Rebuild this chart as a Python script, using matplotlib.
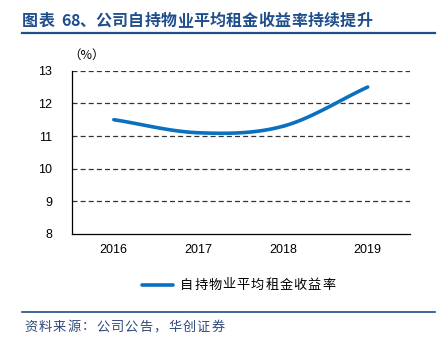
import numpy as np
import matplotlib
matplotlib.use("Agg")
import matplotlib.pyplot as plt
from matplotlib.lines import Line2D

plt.rcParams['font.family'] = ['Liberation Sans', 'Noto Sans CJK SC', 'DejaVu Sans']

# 数据
years = ['2016', '2017', '2018', '2019']
rent_yield = [11.5, 11.1, 11.3, 12.5]
series_name = '自持物业平均租金收益率'
title = '图表 68、公司自持物业平均租金收益率持续提升'
source = '资料来源：公司公告，华创证券'

line_color = '#0A70C0'
title_color = '#1F4E8C'
cjk = ['Noto Sans CJK SC', 'DejaVu Sans']


def catmull_rom(x, y, n=40):
    # 平滑曲线（仅用于绘制，类似 Excel 平滑线）
    x = np.asarray(x, float)
    y = np.asarray(y, float)
    px = np.concatenate([[2 * x[0] - x[1]], x, [2 * x[-1] - x[-2]]])
    py = np.concatenate([[2 * y[0] - y[1]], y, [2 * y[-1] - y[-2]]])
    xs, ys = [], []
    for i in range(1, len(px) - 2):
        t = np.linspace(0, 1, n)
        for p, out in ((px, xs), (py, ys)):
            p0, p1, p2, p3 = p[i - 1], p[i], p[i + 1], p[i + 2]
            out.extend(0.5 * ((2 * p1) + (-p0 + p2) * t
                              + (2 * p0 - 5 * p1 + 4 * p2 - p3) * t ** 2
                              + (-p0 + 3 * p1 - 3 * p2 + p3) * t ** 3))
    return np.array(xs), np.array(ys)


def spaced_text(x0, y, s, step, **kw):
    # 逐字排版，模拟原图较宽的字距
    x = x0
    for ch in s:
        fig.text(x / 445, 1 - y / 345, ch, va='center', ha='left', **kw)
        x += step * (0.55 if ch.isascii() and ch != ' ' else (0.4 if ch == ' ' else 1))


fig = plt.figure(figsize=(4.45, 3.45), dpi=100)
ax = fig.add_axes([71.5 / 445, 1 - 234 / 345, (410 - 71.5) / 445, (234 - 70.7) / 345])

xpos = np.arange(len(years))
sx, sy = catmull_rom(xpos, rent_yield)
ax.plot(sx, sy, color=line_color, lw=2.6, solid_capstyle='round')

ax.set_xlim(-0.5, len(years) - 0.5)
ax.set_ylim(8, 13)
ax.set_yticks(range(8, 14))
ax.set_xticks(xpos)
ax.set_xticklabels(years)
ax.tick_params(length=0, labelsize=9, pad=7)
ax.tick_params(axis='y', pad=14)
for yv in range(9, 14):
    ax.axhline(yv, color='#333333', lw=0.9, ls=(0, (4, 2.5)), zorder=0)
for s in ['top', 'right']:
    ax.spines[s].set_visible(False)
for s in ['left', 'bottom']:
    ax.spines[s].set_linewidth(0.9)
    ax.spines[s].set_color('black')

fig.text(68 / 445, 1 - 55 / 345, '（%）', fontsize=9, va='center', ha='left',
         family=cjk)

# 标题
spaced_text(22, 21, title, 16.3, fontsize=11.5, fontweight='bold',
            color=title_color, family=cjk)
fig.add_artist(Line2D([22 / 445, 435 / 445], [1 - 33 / 345, 1 - 33 / 345],
                      color=title_color, lw=1.6))

# 图例
fig.add_artist(Line2D([142 / 445, 173 / 445], [1 - 285 / 345, 1 - 285 / 345],
                      color=line_color, lw=2.6, solid_capstyle='round'))
spaced_text(180, 285, series_name, 14.2, fontsize=9.5, family=cjk)

# 底部
fig.add_artist(Line2D([22 / 445, 435 / 445], [1 - 312 / 345, 1 - 312 / 345],
                      color=title_color, lw=1.2))
spaced_text(24, 327, source, 14.4, fontsize=9.5, color='#2F4A7A', family=cjk)

fig.savefig('out.png', dpi=100)
